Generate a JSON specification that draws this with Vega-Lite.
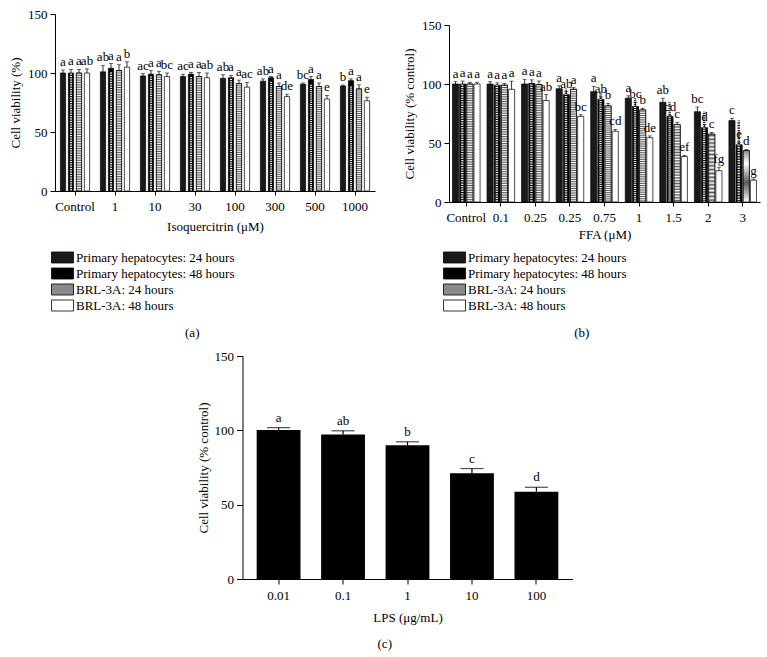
{
"$schema": "https://vega.github.io/schema/vega-lite/v6.json",
"background": "white",
"padding": {"left": 9, "top": 8, "right": 5, "bottom": 5},
"config": {
 "font": "'Liberation Serif', 'Times New Roman', serif",
 "view": {"stroke": null},
 "axis": {"labelFont": "'Liberation Serif', 'Times New Roman', serif", "titleFont": "'Liberation Serif', 'Times New Roman', serif", "labelFontSize": 13, "titleFontSize": 13, "titleFontWeight": "normal", "labelColor": "#000", "titleColor": "#000", "domainColor": "#000", "tickColor": "#000", "grid": false, "tickSize": 5, "domainWidth": 1, "tickWidth": 1},
 "axisX": {"labelAngle": 0, "labelPadding": 5, "titlePadding": 4},
 "axisY": {"labelPadding": 3, "titlePadding": 5},
 "legend": {"labelFont": "'Liberation Serif', 'Times New Roman', serif", "labelFontSize": 13, "labelColor": "#000", "symbolType": "M-1.571,-0.786H1.571V0.786H-1.571Z", "symbolSize": 196, "symbolStrokeColor": "#000", "symbolStrokeWidth": 0.8, "rowPadding": 1, "labelOffset": 6, "padding": 0, "symbolOpacity": 1},
 "title": {"font": "'Liberation Serif', 'Times New Roman', serif", "fontSize": 13, "fontWeight": "normal", "color": "#000"}
},
"datasets": {
 "a": [
  {"dose": "Control", "group": "Primary hepatocytes: 24 hours", "v": 100, "hi": 102.5, "sig": "a"},
  {"dose": "Control", "group": "Primary hepatocytes: 48 hours", "v": 100, "hi": 103, "sig": "a"},
  {"dose": "Control", "group": "BRL-3A: 24 hours", "v": 100, "hi": 103, "sig": "a"},
  {"dose": "Control", "group": "BRL-3A: 48 hours", "v": 100, "hi": 103.5, "sig": "ab"},
  {"dose": "1", "group": "Primary hepatocytes: 24 hours", "v": 101, "hi": 106.5, "sig": "ab"},
  {"dose": "1", "group": "Primary hepatocytes: 48 hours", "v": 104, "hi": 108, "sig": "a"},
  {"dose": "1", "group": "BRL-3A: 24 hours", "v": 102, "hi": 107, "sig": "a"},
  {"dose": "1", "group": "BRL-3A: 48 hours", "v": 105, "hi": 109.5, "sig": "b"},
  {"dose": "10", "group": "Primary hepatocytes: 24 hours", "v": 97.5, "hi": 99.5, "sig": "ac"},
  {"dose": "10", "group": "Primary hepatocytes: 48 hours", "v": 99, "hi": 102, "sig": "a"},
  {"dose": "10", "group": "BRL-3A: 24 hours", "v": 98.5, "hi": 101.5, "sig": "a"},
  {"dose": "10", "group": "BRL-3A: 48 hours", "v": 97, "hi": 100, "sig": "bc"},
  {"dose": "30", "group": "Primary hepatocytes: 24 hours", "v": 97, "hi": 99, "sig": "ac"},
  {"dose": "30", "group": "Primary hepatocytes: 48 hours", "v": 99, "hi": 100.5, "sig": "a"},
  {"dose": "30", "group": "BRL-3A: 24 hours", "v": 97, "hi": 100.5, "sig": "a"},
  {"dose": "30", "group": "BRL-3A: 48 hours", "v": 96, "hi": 100, "sig": "ab"},
  {"dose": "100", "group": "Primary hepatocytes: 24 hours", "v": 95.5, "hi": 98.5, "sig": "ab"},
  {"dose": "100", "group": "Primary hepatocytes: 48 hours", "v": 96, "hi": 98, "sig": "a"},
  {"dose": "100", "group": "BRL-3A: 24 hours", "v": 91, "hi": 94, "sig": "a"},
  {"dose": "100", "group": "BRL-3A: 48 hours", "v": 88, "hi": 92, "sig": "ac"},
  {"dose": "300", "group": "Primary hepatocytes: 24 hours", "v": 93, "hi": 95, "sig": "ab"},
  {"dose": "300", "group": "Primary hepatocytes: 48 hours", "v": 96, "hi": 97, "sig": "a"},
  {"dose": "300", "group": "BRL-3A: 24 hours", "v": 88.5, "hi": 91.5, "sig": "a"},
  {"dose": "300", "group": "BRL-3A: 48 hours", "v": 80, "hi": 82, "sig": "de"},
  {"dose": "500", "group": "Primary hepatocytes: 24 hours", "v": 90.5, "hi": 91.5, "sig": "bc"},
  {"dose": "500", "group": "Primary hepatocytes: 48 hours", "v": 94.5, "hi": 97, "sig": "a"},
  {"dose": "500", "group": "BRL-3A: 24 hours", "v": 88.5, "hi": 91.5, "sig": "a"},
  {"dose": "500", "group": "BRL-3A: 48 hours", "v": 78, "hi": 81, "sig": "e"},
  {"dose": "1000", "group": "Primary hepatocytes: 24 hours", "v": 89, "hi": 89.8, "sig": "b"},
  {"dose": "1000", "group": "Primary hepatocytes: 48 hours", "v": 93.5, "hi": 95, "sig": "a"},
  {"dose": "1000", "group": "BRL-3A: 24 hours", "v": 86.5, "hi": 90, "sig": "a"},
  {"dose": "1000", "group": "BRL-3A: 48 hours", "v": 76.5, "hi": 79.5, "sig": "e"}
 ],
 "b": [
  {"dose": "Control", "group": "Primary hepatocytes: 24 hours", "v": 100, "hi": 102, "sig": "a"},
  {"dose": "Control", "group": "Primary hepatocytes: 48 hours", "v": 100, "hi": 102.5, "sig": "a"},
  {"dose": "Control", "group": "BRL-3A: 24 hours", "v": 100, "hi": 101.5, "sig": "a"},
  {"dose": "Control", "group": "BRL-3A: 48 hours", "v": 100, "hi": 101.5, "sig": "a"},
  {"dose": "0.1", "group": "Primary hepatocytes: 24 hours", "v": 100, "hi": 102, "sig": "a"},
  {"dose": "0.1", "group": "Primary hepatocytes: 48 hours", "v": 99, "hi": 101, "sig": "a"},
  {"dose": "0.1", "group": "BRL-3A: 24 hours", "v": 99, "hi": 100.5, "sig": "a"},
  {"dose": "0.1", "group": "BRL-3A: 48 hours", "v": 95.5, "hi": 102.5, "sig": "a"},
  {"dose": "0.25", "group": "Primary hepatocytes: 24 hours", "v": 100, "hi": 104, "sig": "a"},
  {"dose": "0.25", "group": "Primary hepatocytes: 48 hours", "v": 100.5, "hi": 103.5, "sig": "a"},
  {"dose": "0.25", "group": "BRL-3A: 24 hours", "v": 99.5, "hi": 102.5, "sig": "a"},
  {"dose": "0.25", "group": "BRL-3A: 48 hours", "v": 86, "hi": 91, "sig": "ab"},
  {"dose": "0.25 ", "group": "Primary hepatocytes: 24 hours", "v": 96, "hi": 98.5, "sig": "a"},
  {"dose": "0.25 ", "group": "Primary hepatocytes: 48 hours", "v": 91, "hi": 93.5, "sig": "ab"},
  {"dose": "0.25 ", "group": "BRL-3A: 24 hours", "v": 95.5, "hi": 97, "sig": "a"},
  {"dose": "0.25 ", "group": "BRL-3A: 48 hours", "v": 72.5, "hi": 74, "sig": "bc"},
  {"dose": "0.75", "group": "Primary hepatocytes: 24 hours", "v": 93.5, "hi": 98, "sig": "a"},
  {"dose": "0.75", "group": "Primary hepatocytes: 48 hours", "v": 87, "hi": 89, "sig": "ab"},
  {"dose": "0.75", "group": "BRL-3A: 24 hours", "v": 81.5, "hi": 83.5, "sig": "b"},
  {"dose": "0.75", "group": "BRL-3A: 48 hours", "v": 60, "hi": 61.5, "sig": "cd"},
  {"dose": "1", "group": "Primary hepatocytes: 24 hours", "v": 88, "hi": 90, "sig": "a"},
  {"dose": "1", "group": "Primary hepatocytes: 48 hours", "v": 81, "hi": 84.5, "sig": "bc"},
  {"dose": "1", "group": "BRL-3A: 24 hours", "v": 78, "hi": 79.5, "sig": "b"},
  {"dose": "1", "group": "BRL-3A: 48 hours", "v": 54.5, "hi": 56, "sig": "de"},
  {"dose": "1.5", "group": "Primary hepatocytes: 24 hours", "v": 84.5, "hi": 88, "sig": "ab"},
  {"dose": "1.5", "group": "Primary hepatocytes: 48 hours", "v": 72.5, "hi": 73.5, "sig": "cd"},
  {"dose": "1.5", "group": "BRL-3A: 24 hours", "v": 65.5, "hi": 67.5, "sig": "c"},
  {"dose": "1.5", "group": "BRL-3A: 48 hours", "v": 38.5, "hi": 39.5, "sig": "ef"},
  {"dose": "2", "group": "Primary hepatocytes: 24 hours", "v": 76.5, "hi": 80.5, "sig": "bc"},
  {"dose": "2", "group": "Primary hepatocytes: 48 hours", "v": 63, "hi": 65.5, "sig": "d"},
  {"dose": "2", "group": "BRL-3A: 24 hours", "v": 57.5, "hi": 59, "sig": "c"},
  {"dose": "2", "group": "BRL-3A: 48 hours", "v": 26.5, "hi": 29.5, "sig": "fg"},
  {"dose": "3", "group": "Primary hepatocytes: 24 hours", "v": 69, "hi": 71, "sig": "c"},
  {"dose": "3", "group": "Primary hepatocytes: 48 hours", "v": 48.5, "hi": 50.5, "sig": "e"},
  {"dose": "3", "group": "BRL-3A: 24 hours", "v": 43.5, "hi": 44.5, "sig": "d"},
  {"dose": "3", "group": "BRL-3A: 48 hours", "v": 18.5, "hi": 19.5, "sig": "g"}
 ],
 "c": [
  {"dose": "0.01", "v": 100.3, "hi": 101.8, "sig": "a"},
  {"dose": "0.1", "v": 97.2, "hi": 99.7, "sig": "ab"},
  {"dose": "1", "v": 90, "hi": 92.3, "sig": "b"},
  {"dose": "10", "v": 71.2, "hi": 74.3, "sig": "c"},
  {"dose": "100", "v": 58.7, "hi": 61.7, "sig": "d"}
 ]
},
"spacing": 10,
"center": true,
"resolve": {"scale": {"x": "independent", "y": "independent", "color": "independent", "xOffset": "independent"}, "legend": {"color": "independent"}},
"vconcat": [
 {
  "spacing": 28,
  "resolve": {"scale": {"x": "independent", "y": "independent", "color": "independent", "xOffset": "independent"}, "legend": {"color": "independent"}},
  "hconcat": [
   {
    "width": 320, "height": 177,
    "title": {"text": "(a)", "orient": "bottom", "frame": "bounds", "anchor": "middle", "offset": 14},
    "data": {"name": "a"},
    "encoding": {
     "x": {"field": "dose", "type": "nominal", "scale": {"domain": ["Control", "1", "10", "30", "100", "300", "500", "1000"], "paddingInner": 0.2, "paddingOuter": 0.1}, "axis": {"title": "Isoquercitrin (\u03bcM)", "tickSize": 4, "titlePadding": 7}},
     "xOffset": {"field": "group", "type": "nominal", "scale": {"domain": ["Primary hepatocytes: 24 hours", "Primary hepatocytes: 48 hours", "BRL-3A: 24 hours", "BRL-3A: 48 hours"], "paddingInner": 0.35, "paddingOuter": 0.175}},
     "y": {"field": "v", "type": "quantitative", "scale": {"domain": [0, 150]}, "axis": {"values": [0, 50, 100, 150], "title": "Cell viability (%)"}}
    },
    "layer": [
     {"mark": {"type": "bar", "stroke": "#000", "strokeWidth": 0.7},
      "encoding": {"color": {"field": "group", "type": "nominal", "scale": {"domain": ["Primary hepatocytes: 24 hours", "Primary hepatocytes: 48 hours", "BRL-3A: 24 hours", "BRL-3A: 48 hours"], "range": ["#1a1a1a", "#000000", "#8a8a8a", "#ffffff"]}, "legend": {"title": null, "orient": "none", "legendX": 0, "legendY": 236, "direction": "vertical"}}}},
     {"transform": [{"filter": "datum.group === 'Primary hepatocytes: 24 hours'"}],
      "mark": {"type": "bar", "width": {"band": 0.4}, "fill": {"gradient": "linear", "x1": 0, "y1": 0, "x2": 0, "y2": 1, "stops": [{"offset":0,"color":"#000"},{"offset":0.01,"color":"#fff"},{"offset":0.02,"color":"#000"},{"offset":0.03,"color":"#fff"},{"offset":0.04,"color":"#000"},{"offset":0.05,"color":"#fff"},{"offset":0.06,"color":"#000"},{"offset":0.07,"color":"#fff"},{"offset":0.08,"color":"#000"},{"offset":0.09,"color":"#fff"},{"offset":0.1,"color":"#000"},{"offset":0.11,"color":"#fff"},{"offset":0.12,"color":"#000"},{"offset":0.13,"color":"#fff"},{"offset":0.14,"color":"#000"},{"offset":0.15,"color":"#fff"},{"offset":0.16,"color":"#000"},{"offset":0.17,"color":"#fff"},{"offset":0.18,"color":"#000"},{"offset":0.19,"color":"#fff"},{"offset":0.2,"color":"#000"},{"offset":0.21,"color":"#fff"},{"offset":0.22,"color":"#000"},{"offset":0.23,"color":"#fff"},{"offset":0.24,"color":"#000"},{"offset":0.25,"color":"#fff"},{"offset":0.26,"color":"#000"},{"offset":0.27,"color":"#fff"},{"offset":0.28,"color":"#000"},{"offset":0.29,"color":"#fff"},{"offset":0.3,"color":"#000"},{"offset":0.31,"color":"#fff"},{"offset":0.32,"color":"#000"},{"offset":0.33,"color":"#fff"},{"offset":0.34,"color":"#000"},{"offset":0.35,"color":"#fff"},{"offset":0.36,"color":"#000"},{"offset":0.37,"color":"#fff"},{"offset":0.38,"color":"#000"},{"offset":0.39,"color":"#fff"},{"offset":0.4,"color":"#000"},{"offset":0.41,"color":"#fff"},{"offset":0.42,"color":"#000"},{"offset":0.43,"color":"#fff"},{"offset":0.44,"color":"#000"},{"offset":0.45,"color":"#fff"},{"offset":0.46,"color":"#000"},{"offset":0.47,"color":"#fff"},{"offset":0.48,"color":"#000"},{"offset":0.49,"color":"#fff"},{"offset":0.5,"color":"#000"},{"offset":0.51,"color":"#fff"},{"offset":0.52,"color":"#000"},{"offset":0.53,"color":"#fff"},{"offset":0.54,"color":"#000"},{"offset":0.55,"color":"#fff"},{"offset":0.56,"color":"#000"},{"offset":0.57,"color":"#fff"},{"offset":0.58,"color":"#000"},{"offset":0.59,"color":"#fff"},{"offset":0.6,"color":"#000"},{"offset":0.61,"color":"#fff"},{"offset":0.62,"color":"#000"},{"offset":0.63,"color":"#fff"},{"offset":0.64,"color":"#000"},{"offset":0.65,"color":"#fff"},{"offset":0.66,"color":"#000"},{"offset":0.67,"color":"#fff"},{"offset":0.68,"color":"#000"},{"offset":0.69,"color":"#fff"},{"offset":0.7,"color":"#000"},{"offset":0.71,"color":"#fff"},{"offset":0.72,"color":"#000"},{"offset":0.73,"color":"#fff"},{"offset":0.74,"color":"#000"},{"offset":0.75,"color":"#fff"},{"offset":0.76,"color":"#000"},{"offset":0.77,"color":"#fff"},{"offset":0.78,"color":"#000"},{"offset":0.79,"color":"#fff"},{"offset":0.8,"color":"#000"},{"offset":0.81,"color":"#fff"},{"offset":0.82,"color":"#000"},{"offset":0.83,"color":"#fff"},{"offset":0.84,"color":"#000"},{"offset":0.85,"color":"#fff"},{"offset":0.86,"color":"#000"},{"offset":0.87,"color":"#fff"},{"offset":0.88,"color":"#000"},{"offset":0.89,"color":"#fff"},{"offset":0.9,"color":"#000"},{"offset":0.91,"color":"#fff"},{"offset":0.92,"color":"#000"},{"offset":0.93,"color":"#fff"},{"offset":0.94,"color":"#000"},{"offset":0.95,"color":"#fff"},{"offset":0.96,"color":"#000"},{"offset":0.97,"color":"#fff"},{"offset":0.98,"color":"#000"},{"offset":0.99,"color":"#fff"},{"offset":1,"color":"#000"}]}}},
     {"transform": [{"filter": "datum.group === 'BRL-3A: 24 hours'"}],
      "mark": {"type": "bar", "stroke": "#000", "strokeWidth": 0.7, "fill": {"gradient": "linear", "x1": 0, "y1": 0, "x2": 0, "y2": 1, "stops": [{"offset":0,"color":"#5a5a5a"},{"offset":0.01,"color":"#fff"},{"offset":0.02,"color":"#5a5a5a"},{"offset":0.03,"color":"#fff"},{"offset":0.04,"color":"#5a5a5a"},{"offset":0.05,"color":"#fff"},{"offset":0.06,"color":"#5a5a5a"},{"offset":0.07,"color":"#fff"},{"offset":0.08,"color":"#5a5a5a"},{"offset":0.09,"color":"#fff"},{"offset":0.1,"color":"#5a5a5a"},{"offset":0.11,"color":"#fff"},{"offset":0.12,"color":"#5a5a5a"},{"offset":0.13,"color":"#fff"},{"offset":0.14,"color":"#5a5a5a"},{"offset":0.15,"color":"#fff"},{"offset":0.16,"color":"#5a5a5a"},{"offset":0.17,"color":"#fff"},{"offset":0.18,"color":"#5a5a5a"},{"offset":0.19,"color":"#fff"},{"offset":0.2,"color":"#5a5a5a"},{"offset":0.21,"color":"#fff"},{"offset":0.22,"color":"#5a5a5a"},{"offset":0.23,"color":"#fff"},{"offset":0.24,"color":"#5a5a5a"},{"offset":0.25,"color":"#fff"},{"offset":0.26,"color":"#5a5a5a"},{"offset":0.27,"color":"#fff"},{"offset":0.28,"color":"#5a5a5a"},{"offset":0.29,"color":"#fff"},{"offset":0.3,"color":"#5a5a5a"},{"offset":0.31,"color":"#fff"},{"offset":0.32,"color":"#5a5a5a"},{"offset":0.33,"color":"#fff"},{"offset":0.34,"color":"#5a5a5a"},{"offset":0.35,"color":"#fff"},{"offset":0.36,"color":"#5a5a5a"},{"offset":0.37,"color":"#fff"},{"offset":0.38,"color":"#5a5a5a"},{"offset":0.39,"color":"#fff"},{"offset":0.4,"color":"#5a5a5a"},{"offset":0.41,"color":"#fff"},{"offset":0.42,"color":"#5a5a5a"},{"offset":0.43,"color":"#fff"},{"offset":0.44,"color":"#5a5a5a"},{"offset":0.45,"color":"#fff"},{"offset":0.46,"color":"#5a5a5a"},{"offset":0.47,"color":"#fff"},{"offset":0.48,"color":"#5a5a5a"},{"offset":0.49,"color":"#fff"},{"offset":0.5,"color":"#5a5a5a"},{"offset":0.51,"color":"#fff"},{"offset":0.52,"color":"#5a5a5a"},{"offset":0.53,"color":"#fff"},{"offset":0.54,"color":"#5a5a5a"},{"offset":0.55,"color":"#fff"},{"offset":0.56,"color":"#5a5a5a"},{"offset":0.57,"color":"#fff"},{"offset":0.58,"color":"#5a5a5a"},{"offset":0.59,"color":"#fff"},{"offset":0.6,"color":"#5a5a5a"},{"offset":0.61,"color":"#fff"},{"offset":0.62,"color":"#5a5a5a"},{"offset":0.63,"color":"#fff"},{"offset":0.64,"color":"#5a5a5a"},{"offset":0.65,"color":"#fff"},{"offset":0.66,"color":"#5a5a5a"},{"offset":0.67,"color":"#fff"},{"offset":0.68,"color":"#5a5a5a"},{"offset":0.69,"color":"#fff"},{"offset":0.7,"color":"#5a5a5a"},{"offset":0.71,"color":"#fff"},{"offset":0.72,"color":"#5a5a5a"},{"offset":0.73,"color":"#fff"},{"offset":0.74,"color":"#5a5a5a"},{"offset":0.75,"color":"#fff"},{"offset":0.76,"color":"#5a5a5a"},{"offset":0.77,"color":"#fff"},{"offset":0.78,"color":"#5a5a5a"},{"offset":0.79,"color":"#fff"},{"offset":0.8,"color":"#5a5a5a"},{"offset":0.81,"color":"#fff"},{"offset":0.82,"color":"#5a5a5a"},{"offset":0.83,"color":"#fff"},{"offset":0.84,"color":"#5a5a5a"},{"offset":0.85,"color":"#fff"},{"offset":0.86,"color":"#5a5a5a"},{"offset":0.87,"color":"#fff"},{"offset":0.88,"color":"#5a5a5a"},{"offset":0.89,"color":"#fff"},{"offset":0.9,"color":"#5a5a5a"},{"offset":0.91,"color":"#fff"},{"offset":0.92,"color":"#5a5a5a"},{"offset":0.93,"color":"#fff"},{"offset":0.94,"color":"#5a5a5a"},{"offset":0.95,"color":"#fff"},{"offset":0.96,"color":"#5a5a5a"},{"offset":0.97,"color":"#fff"},{"offset":0.98,"color":"#5a5a5a"},{"offset":0.99,"color":"#fff"},{"offset":1,"color":"#5a5a5a"}]}}},
     {"mark": {"type": "rule", "color": "#000", "strokeWidth": 0.8}, "encoding": {"y2": {"field": "hi"}}},
     {"mark": {"type": "tick", "color": "#000", "thickness": 0.8, "size": 4}, "encoding": {"y": {"field": "hi", "type": "quantitative"}}},
     {"mark": {"type": "text", "font": "'Liberation Serif', 'Times New Roman', serif", "fontSize": 13, "baseline": "alphabetic", "dy": -4, "color": "#000"}, "encoding": {"y": {"field": "hi", "type": "quantitative"}, "text": {"field": "sig"}}}
    ]
   },
   {
    "width": 311, "height": 188,
    "title": {"text": "(b)", "orient": "bottom", "frame": "bounds", "anchor": "middle", "offset": 14},
    "data": {"name": "b"},
    "encoding": {
     "x": {"field": "dose", "type": "nominal", "scale": {"domain": ["Control", "0.1", "0.25", "0.25 ", "0.75", "1", "1.5", "2", "3"], "paddingInner": 0.17, "paddingOuter": 0.085}, "axis": {"title": "FFA (\u03bcM)", "tickSize": 4}},
     "xOffset": {"field": "group", "type": "nominal", "scale": {"domain": ["Primary hepatocytes: 24 hours", "Primary hepatocytes: 48 hours", "BRL-3A: 24 hours", "BRL-3A: 48 hours"], "paddingInner": 0.15, "paddingOuter": 0.075}},
     "y": {"field": "v", "type": "quantitative", "scale": {"domain": [0, 150], "range": [188, 11]}, "axis": {"values": [0, 50, 100, 150], "title": "Cell viability (% control)"}}
    },
    "layer": [
     {"mark": {"type": "bar", "stroke": "#000", "strokeWidth": 0.7},
      "encoding": {"color": {"field": "group", "type": "nominal", "scale": {"domain": ["Primary hepatocytes: 24 hours", "Primary hepatocytes: 48 hours", "BRL-3A: 24 hours", "BRL-3A: 48 hours"], "range": ["#1a1a1a", "#000000", "#8a8a8a", "#ffffff"]}, "legend": {"title": null, "orient": "none", "legendX": -2, "legendY": 236, "direction": "vertical"}}}},
     {"transform": [{"filter": "datum.group === 'Primary hepatocytes: 24 hours'"}],
      "mark": {"type": "bar", "width": {"band": 0.4}, "fill": {"gradient": "linear", "x1": 0, "y1": 0, "x2": 0, "y2": 1, "stops": [{"offset":0,"color":"#000"},{"offset":0.01,"color":"#fff"},{"offset":0.02,"color":"#000"},{"offset":0.03,"color":"#fff"},{"offset":0.04,"color":"#000"},{"offset":0.05,"color":"#fff"},{"offset":0.06,"color":"#000"},{"offset":0.07,"color":"#fff"},{"offset":0.08,"color":"#000"},{"offset":0.09,"color":"#fff"},{"offset":0.1,"color":"#000"},{"offset":0.11,"color":"#fff"},{"offset":0.12,"color":"#000"},{"offset":0.13,"color":"#fff"},{"offset":0.14,"color":"#000"},{"offset":0.15,"color":"#fff"},{"offset":0.16,"color":"#000"},{"offset":0.17,"color":"#fff"},{"offset":0.18,"color":"#000"},{"offset":0.19,"color":"#fff"},{"offset":0.2,"color":"#000"},{"offset":0.21,"color":"#fff"},{"offset":0.22,"color":"#000"},{"offset":0.23,"color":"#fff"},{"offset":0.24,"color":"#000"},{"offset":0.25,"color":"#fff"},{"offset":0.26,"color":"#000"},{"offset":0.27,"color":"#fff"},{"offset":0.28,"color":"#000"},{"offset":0.29,"color":"#fff"},{"offset":0.3,"color":"#000"},{"offset":0.31,"color":"#fff"},{"offset":0.32,"color":"#000"},{"offset":0.33,"color":"#fff"},{"offset":0.34,"color":"#000"},{"offset":0.35,"color":"#fff"},{"offset":0.36,"color":"#000"},{"offset":0.37,"color":"#fff"},{"offset":0.38,"color":"#000"},{"offset":0.39,"color":"#fff"},{"offset":0.4,"color":"#000"},{"offset":0.41,"color":"#fff"},{"offset":0.42,"color":"#000"},{"offset":0.43,"color":"#fff"},{"offset":0.44,"color":"#000"},{"offset":0.45,"color":"#fff"},{"offset":0.46,"color":"#000"},{"offset":0.47,"color":"#fff"},{"offset":0.48,"color":"#000"},{"offset":0.49,"color":"#fff"},{"offset":0.5,"color":"#000"},{"offset":0.51,"color":"#fff"},{"offset":0.52,"color":"#000"},{"offset":0.53,"color":"#fff"},{"offset":0.54,"color":"#000"},{"offset":0.55,"color":"#fff"},{"offset":0.56,"color":"#000"},{"offset":0.57,"color":"#fff"},{"offset":0.58,"color":"#000"},{"offset":0.59,"color":"#fff"},{"offset":0.6,"color":"#000"},{"offset":0.61,"color":"#fff"},{"offset":0.62,"color":"#000"},{"offset":0.63,"color":"#fff"},{"offset":0.64,"color":"#000"},{"offset":0.65,"color":"#fff"},{"offset":0.66,"color":"#000"},{"offset":0.67,"color":"#fff"},{"offset":0.68,"color":"#000"},{"offset":0.69,"color":"#fff"},{"offset":0.7,"color":"#000"},{"offset":0.71,"color":"#fff"},{"offset":0.72,"color":"#000"},{"offset":0.73,"color":"#fff"},{"offset":0.74,"color":"#000"},{"offset":0.75,"color":"#fff"},{"offset":0.76,"color":"#000"},{"offset":0.77,"color":"#fff"},{"offset":0.78,"color":"#000"},{"offset":0.79,"color":"#fff"},{"offset":0.8,"color":"#000"},{"offset":0.81,"color":"#fff"},{"offset":0.82,"color":"#000"},{"offset":0.83,"color":"#fff"},{"offset":0.84,"color":"#000"},{"offset":0.85,"color":"#fff"},{"offset":0.86,"color":"#000"},{"offset":0.87,"color":"#fff"},{"offset":0.88,"color":"#000"},{"offset":0.89,"color":"#fff"},{"offset":0.9,"color":"#000"},{"offset":0.91,"color":"#fff"},{"offset":0.92,"color":"#000"},{"offset":0.93,"color":"#fff"},{"offset":0.94,"color":"#000"},{"offset":0.95,"color":"#fff"},{"offset":0.96,"color":"#000"},{"offset":0.97,"color":"#fff"},{"offset":0.98,"color":"#000"},{"offset":0.99,"color":"#fff"},{"offset":1,"color":"#000"}]}}},
     {"transform": [{"filter": "datum.group === 'BRL-3A: 24 hours'"}],
      "mark": {"type": "bar", "stroke": "#000", "strokeWidth": 0.7, "fill": {"gradient": "linear", "x1": 0, "y1": 0, "x2": 0, "y2": 1, "stops": [{"offset":0,"color":"#5a5a5a"},{"offset":0.01,"color":"#fff"},{"offset":0.02,"color":"#5a5a5a"},{"offset":0.03,"color":"#fff"},{"offset":0.04,"color":"#5a5a5a"},{"offset":0.05,"color":"#fff"},{"offset":0.06,"color":"#5a5a5a"},{"offset":0.07,"color":"#fff"},{"offset":0.08,"color":"#5a5a5a"},{"offset":0.09,"color":"#fff"},{"offset":0.1,"color":"#5a5a5a"},{"offset":0.11,"color":"#fff"},{"offset":0.12,"color":"#5a5a5a"},{"offset":0.13,"color":"#fff"},{"offset":0.14,"color":"#5a5a5a"},{"offset":0.15,"color":"#fff"},{"offset":0.16,"color":"#5a5a5a"},{"offset":0.17,"color":"#fff"},{"offset":0.18,"color":"#5a5a5a"},{"offset":0.19,"color":"#fff"},{"offset":0.2,"color":"#5a5a5a"},{"offset":0.21,"color":"#fff"},{"offset":0.22,"color":"#5a5a5a"},{"offset":0.23,"color":"#fff"},{"offset":0.24,"color":"#5a5a5a"},{"offset":0.25,"color":"#fff"},{"offset":0.26,"color":"#5a5a5a"},{"offset":0.27,"color":"#fff"},{"offset":0.28,"color":"#5a5a5a"},{"offset":0.29,"color":"#fff"},{"offset":0.3,"color":"#5a5a5a"},{"offset":0.31,"color":"#fff"},{"offset":0.32,"color":"#5a5a5a"},{"offset":0.33,"color":"#fff"},{"offset":0.34,"color":"#5a5a5a"},{"offset":0.35,"color":"#fff"},{"offset":0.36,"color":"#5a5a5a"},{"offset":0.37,"color":"#fff"},{"offset":0.38,"color":"#5a5a5a"},{"offset":0.39,"color":"#fff"},{"offset":0.4,"color":"#5a5a5a"},{"offset":0.41,"color":"#fff"},{"offset":0.42,"color":"#5a5a5a"},{"offset":0.43,"color":"#fff"},{"offset":0.44,"color":"#5a5a5a"},{"offset":0.45,"color":"#fff"},{"offset":0.46,"color":"#5a5a5a"},{"offset":0.47,"color":"#fff"},{"offset":0.48,"color":"#5a5a5a"},{"offset":0.49,"color":"#fff"},{"offset":0.5,"color":"#5a5a5a"},{"offset":0.51,"color":"#fff"},{"offset":0.52,"color":"#5a5a5a"},{"offset":0.53,"color":"#fff"},{"offset":0.54,"color":"#5a5a5a"},{"offset":0.55,"color":"#fff"},{"offset":0.56,"color":"#5a5a5a"},{"offset":0.57,"color":"#fff"},{"offset":0.58,"color":"#5a5a5a"},{"offset":0.59,"color":"#fff"},{"offset":0.6,"color":"#5a5a5a"},{"offset":0.61,"color":"#fff"},{"offset":0.62,"color":"#5a5a5a"},{"offset":0.63,"color":"#fff"},{"offset":0.64,"color":"#5a5a5a"},{"offset":0.65,"color":"#fff"},{"offset":0.66,"color":"#5a5a5a"},{"offset":0.67,"color":"#fff"},{"offset":0.68,"color":"#5a5a5a"},{"offset":0.69,"color":"#fff"},{"offset":0.7,"color":"#5a5a5a"},{"offset":0.71,"color":"#fff"},{"offset":0.72,"color":"#5a5a5a"},{"offset":0.73,"color":"#fff"},{"offset":0.74,"color":"#5a5a5a"},{"offset":0.75,"color":"#fff"},{"offset":0.76,"color":"#5a5a5a"},{"offset":0.77,"color":"#fff"},{"offset":0.78,"color":"#5a5a5a"},{"offset":0.79,"color":"#fff"},{"offset":0.8,"color":"#5a5a5a"},{"offset":0.81,"color":"#fff"},{"offset":0.82,"color":"#5a5a5a"},{"offset":0.83,"color":"#fff"},{"offset":0.84,"color":"#5a5a5a"},{"offset":0.85,"color":"#fff"},{"offset":0.86,"color":"#5a5a5a"},{"offset":0.87,"color":"#fff"},{"offset":0.88,"color":"#5a5a5a"},{"offset":0.89,"color":"#fff"},{"offset":0.9,"color":"#5a5a5a"},{"offset":0.91,"color":"#fff"},{"offset":0.92,"color":"#5a5a5a"},{"offset":0.93,"color":"#fff"},{"offset":0.94,"color":"#5a5a5a"},{"offset":0.95,"color":"#fff"},{"offset":0.96,"color":"#5a5a5a"},{"offset":0.97,"color":"#fff"},{"offset":0.98,"color":"#5a5a5a"},{"offset":0.99,"color":"#fff"},{"offset":1,"color":"#5a5a5a"}]}}},
     {"mark": {"type": "rule", "color": "#000", "strokeWidth": 0.8}, "encoding": {"y2": {"field": "hi"}}},
     {"mark": {"type": "tick", "color": "#000", "thickness": 0.8, "size": 4}, "encoding": {"y": {"field": "hi", "type": "quantitative"}}},
     {"mark": {"type": "text", "font": "'Liberation Serif', 'Times New Roman', serif", "fontSize": 13, "baseline": "alphabetic", "dy": -4, "color": "#000"}, "encoding": {"y": {"field": "hi", "type": "quantitative"}, "text": {"field": "sig"}}}
    ]
   }
  ]
 },
 {
  "width": 330, "height": 223,
  "title": {"text": "(c)", "orient": "bottom", "frame": "bounds", "anchor": "middle", "offset": 14},
  "data": {"name": "c"},
  "encoding": {
   "x": {"field": "dose", "type": "nominal", "scale": {"domain": ["0.01", "0.1", "1", "10", "100"], "paddingInner": 0.32, "paddingOuter": 0.22}, "axis": {"title": "LPS (\u03bcg/mL)", "titlePadding": 9}},
   "y": {"field": "v", "type": "quantitative", "scale": {"domain": [0, 150]}, "axis": {"values": [0, 50, 100, 150], "title": "Cell viability (% control)", "titlePadding": 4, "tickSize": 6}}
  },
  "layer": [
   {"mark": {"type": "bar", "color": "#000"}},
   {"mark": {"type": "rule", "color": "#000", "strokeWidth": 1.2}, "encoding": {"y2": {"field": "hi"}}},
   {"mark": {"type": "tick", "color": "#000", "thickness": 1.2, "size": 23}, "encoding": {"y": {"field": "hi", "type": "quantitative"}}},
   {"mark": {"type": "text", "font": "'Liberation Serif', 'Times New Roman', serif", "fontSize": 13, "baseline": "alphabetic", "dy": -6, "color": "#000"}, "encoding": {"y": {"field": "hi", "type": "quantitative"}, "text": {"field": "sig"}}}
  ]
 }
]
}
